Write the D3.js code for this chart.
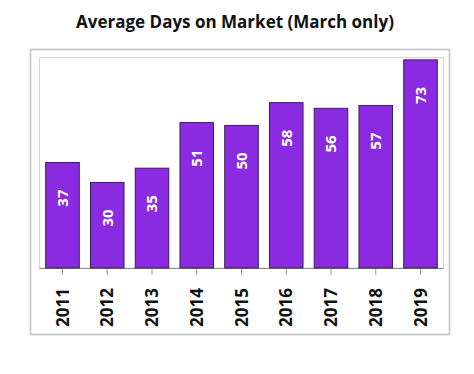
<!DOCTYPE html>
<html>
<head>
<meta charset="utf-8">
<script src="https://cdn.jsdelivr.net/npm/d3@7"></script>
<style>
  body { margin: 0; background: #fff; }
  text { font-family: "Open Sans", sans-serif; }
</style>
</head>
<body>
<script>
'use strict';

// chart data
const years = ["2011", "2012", "2013", "2014", "2015", "2016", "2017", "2018", "2019"];
const days = [37, 30, 35, 51, 50, 58, 56, 57, 73];

const svg = d3.select('body')
  .append('svg')
  .attr('width', 474)
  .attr('height', 374);

// title
svg.append('text')
  .attr('x', 235)
  .attr('y', 28)
  .attr('text-anchor', 'middle')
  .style('font-size', '17px')
  .style('font-weight', 'bold')
  .attr('fill', '#111')
  .text('Average Days on Market (March only)');

// outer frame
svg.append('rect')
  .attr('x', 30.5).attr('y', 49.5)
  .attr('width', 419).attr('height', 285)
  .attr('fill', 'none')
  .attr('stroke', '#c0c0c0')
  .attr('stroke-width', 1.5);

// inner plot frame
svg.append('rect')
  .attr('x', 39.5).attr('y', 57.5)
  .attr('width', 404).attr('height', 210.5)
  .attr('fill', 'none')
  .attr('stroke', '#d6d6d6');

// scales
let xScale = d3.scaleBand()
  .domain(years)
  .range([39, 444])
  .paddingInner(0.25)
  .paddingOuter(0.15);

let yScale = d3.scaleLinear()
  .domain([0, 74])
  .range([268, 57]);

// x axis at baseline
let xAxis = d3.axisBottom(xScale).tickSize(7).tickFormat('');
let gx = svg.append('g')
  .attr('transform', 'translate(0, 268)')
  .call(xAxis);
gx.select('.domain').attr('stroke', '#8a8a8a').attr('stroke-width', 1.2)
  .attr('d', 'M39.5,0.5H443.5');
gx.selectAll('.tick line').attr('stroke', '#999');

// bars
svg.selectAll('.bar')
  .data(days)
  .enter()
  .append('rect')
    .attr('class', 'bar')
    .attr('x', (d, i) => xScale(years[i]))
    .attr('y', d => yScale(d))
    .attr('width', xScale.bandwidth())
    .attr('height', d => yScale(0) - yScale(d))
    .attr('fill', '#8a2be2')
    .attr('stroke', '#3a2050')
    .attr('stroke-width', 1);

// value labels inside bars
svg.selectAll('.val')
  .data(days)
  .enter()
  .append('text')
    .attr('class', 'val')
    .attr('transform', (d, i) =>
      'translate(' + (xScale(years[i]) + xScale.bandwidth() / 2) + ',' + (yScale(d) + 27) + ')rotate(-90)')
    .attr('dy', '0.36em')
    .attr('text-anchor', 'end')
    .attr('fill', '#fff')
    .style('font-size', '15px')
    .style('font-weight', 'bold')
    .text(d => d);

// year labels
svg.selectAll('.year')
  .data(years)
  .enter()
  .append('text')
    .attr('class', 'year')
    .attr('transform', d =>
      'translate(' + (xScale(d) + xScale.bandwidth() / 2) + ',288)rotate(-90)')
    .attr('dy', '0.36em')
    .attr('text-anchor', 'end')
    .attr('fill', '#111')
    .style('font-size', '17px')
    .style('font-weight', 'bold')
    .text(d => d);
</script>
</body>
</html>
